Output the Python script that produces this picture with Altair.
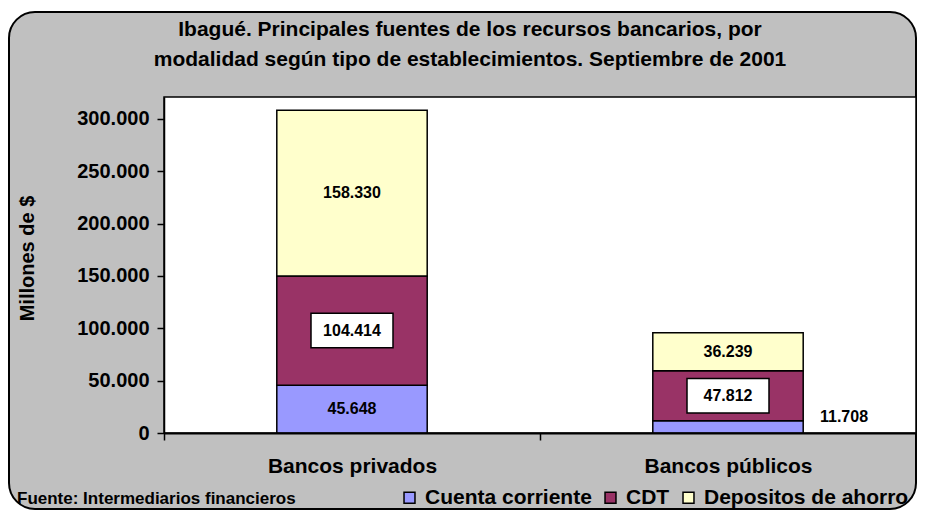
import altair as alt
import pandas as pd

# ---- data ----
categorias = ["Bancos privados", "Bancos públicos"]
series = ["Cuenta corriente", "CDT", "Depositos de ahorro"]
cuenta_corriente = [45648, 11708]
cdt = [104414, 47812]
depositos_ahorro = [158330, 36239]
colores = ["#9999ff", "#993366", "#ffffcc"]
y_ticks = [0, 50000, 100000, 150000, 200000, 250000, 300000]
titulo = ["Ibagué. Principales fuentes de los recursos bancarios, por",
          "modalidad según tipo de establecimientos. Septiembre de 2001"]
eje_y = "Millones de $"
fuente = "Fuente: Intermediarios financieros"

rows = []
for i, cat in enumerate(categorias):
    for j, (s, vals) in enumerate(zip(series, [cuenta_corriente, cdt, depositos_ahorro])):
        rows.append({"cat": cat, "serie": s, "orden": j, "valor": vals[i],
                     "etiqueta": f"{vals[i]:,}".replace(",", ".")})
df = pd.DataFrame(rows)

FONT = "Liberation Sans"
W, H = 752, 336

x_scale = alt.Scale(paddingInner=0, paddingOuter=0)
x_axis = alt.Axis(title=None, labelAngle=0, labelFont=FONT, labelFontSize=21,
                  labelFontWeight="bold", labelColor="black", labelPadding=15,
                  tickBand="extent", tickColor="black", tickSize=7, tickWidth=1.5,
                  domainColor="black", domainWidth=2, zindex=2)
y_scale = alt.Scale(domain=[0, 321000], nice=False, zero=True)
y_axis = alt.Axis(values=y_ticks, labelExpr="replace(format(datum.value, ','), ',', '.')",
                  title=eje_y, titleFont=FONT, titleFontSize=20, titleFontWeight="bold",
                  titleColor="black", titleAngle=270, titleX=-137, titleY=161,
                  titleAlign="center", titleBaseline="middle",
                  labelFont=FONT, labelFontSize=20, labelFontWeight="bold",
                  labelColor="black", labelPadding=8, tickColor="black", tickSize=7,
                  tickWidth=1.5, domainColor="black", domainWidth=1.5, grid=False,
                  zindex=2)

def X():
    return alt.X("cat:N", sort=categorias, scale=x_scale, axis=x_axis)

one = alt.Data(values=[{}])

frame = alt.Chart(one).mark_rect(fill="#c0c0c0", stroke="black", strokeWidth=2,
                                 cornerRadius=26).encode(
    x=alt.value(-155), x2=alt.value(752), y=alt.value(-85), y2=alt.value(412))

plotbg = alt.Chart(one).mark_rect(fill="white", stroke="black", strokeWidth=1.5).encode(
    x=alt.value(0), x2=alt.value(W), y=alt.value(0), y2=alt.value(H))

bars = alt.Chart(df).mark_bar(stroke="black", strokeWidth=1.5,
                              width=alt.RelativeBandSize(0.4)).encode(
    x=X(),
    y=alt.Y("valor:Q", stack="zero", scale=y_scale, axis=y_axis),
    color=alt.Color("serie:N", scale=alt.Scale(domain=series, range=colores),
                    legend=alt.Legend(title=None, orient="none", direction="horizontal",
                                      legendX=235, legendY=390, symbolType="square",
                                      symbolSize=120, symbolStrokeColor="black",
                                      symbolStrokeWidth=1.5, symbolOpacity=1,
                                      labelFont=FONT, labelFontSize=21, labelFontWeight="bold",
                                      labelColor="black", labelOffset=5, columnPadding=8,
                                      labelLimit=0, zindex=2)),
    order=alt.Order("orden:Q", sort="ascending"),
)

base_lbl = alt.Chart(df).transform_stack(
    stack="valor", groupby=["cat"], as_=["y0", "y1"],
    sort=[alt.SortField("orden", order="ascending")]
).transform_calculate(mid="(datum.y0 + datum.y1) / 2")

Y_mid = alt.Y("mid:Q", scale=y_scale, axis=y_axis)

boxes = base_lbl.transform_filter("datum.serie == 'CDT'").mark_point(
    shape="M-1,-0.42L1,-0.42L1,0.42L-1,0.42Z", size=6724, filled=True,
    fill="white", stroke="black", strokeWidth=1.5, opacity=1).encode(
    x=X(), y=Y_mid)

labels_in = base_lbl.transform_filter("datum.valor >= 20000").mark_text(
    font=FONT, fontSize=16, fontWeight="bold", color="black", baseline="middle").encode(
    x=X(), y=Y_mid, text="etiqueta:N")

labels_out = base_lbl.transform_filter("datum.valor < 20000").mark_text(
    font=FONT, fontSize=16, fontWeight="bold", color="black", baseline="middle",
    dx=116, dy=-10).encode(
    x=X(), y=Y_mid, text="etiqueta:N")

def txt(s, x, y, size, align="center"):
    return alt.Chart(one).mark_text(font=FONT, fontSize=size, fontWeight="bold",
                                    color="black", align=align, baseline="middle").encode(
        x=alt.value(x), y=alt.value(y), text=alt.value(s))

t1 = txt(titulo[0], 306, -67, 21)
t2 = txt(titulo[1], 306, -37, 21)
src = txt(fuente, -147, 402, 17, align="left")

chart = alt.layer(frame, plotbg, bars, boxes, labels_in, labels_out, t1, t2, src).properties(
    width=W, height=H,
    autosize=alt.AutoSizeParams(type="none"),
    padding={"left": 156, "top": 89, "right": 1, "bottom": 78},
    background="white",
).configure_view(stroke=None)

chart.save("out.html", embed_options={"renderer": "svg", "actions": False})
